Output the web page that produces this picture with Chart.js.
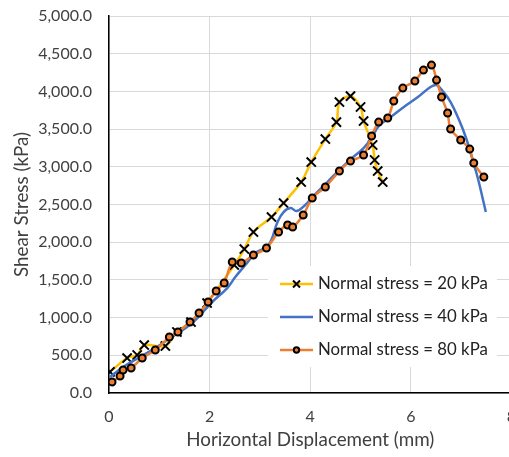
<!DOCTYPE html>
<html>
<head>
<meta charset="utf-8">
<script src="https://cdn.jsdelivr.net/npm/chart.js@4.4.1/dist/chart.umd.min.js"></script>
<style>
  html, body { margin: 0; padding: 0; background: #fff; overflow: hidden; }
</style>
</head>
<body>
<canvas id="shearChart" width="520" height="457"></canvas>
<script>
// Direct shear test: horizontal displacement (mm) vs shear stress (kPa)
const disp20 = [0.02, 0.36, 0.56, 0.70, 1.12, 1.35, 1.63, 1.95, 2.49, 2.69, 2.87, 3.23, 3.47, 3.82, 4.02, 4.30, 4.52, 4.58, 4.80, 5.00, 5.06, 5.24, 5.28, 5.34, 5.44];
const shear20 = [280, 464, 504, 636, 623, 809, 941, 1193, 1697, 1909, 2135, 2334, 2519, 2798, 3063, 3368, 3593, 3859, 3938, 3793, 3607, 3289, 3090, 2944, 2798];

const disp40 = [0.02, 0.28, 0.58, 0.92, 1.25, 1.65, 2.05, 2.35, 2.51, 2.71, 2.91, 3.17, 3.35, 3.47, 3.61, 3.73, 3.90, 4.06, 4.34, 4.74, 5.06, 5.22, 5.36, 5.60, 5.86, 6.14, 6.39, 6.51, 6.65, 6.79, 6.95, 7.09, 7.21, 7.33, 7.49];
const shear40 = [212, 345, 464, 597, 743, 928, 1207, 1392, 1538, 1697, 1856, 1962, 2268, 2400, 2453, 2413, 2493, 2612, 2798, 3063, 3249, 3381, 3540, 3660, 3793, 3925, 4058, 4084, 3991, 3859, 3633, 3395, 3130, 2851, 2400];

const disp80 = [0.06, 0.22, 0.28, 0.44, 0.66, 0.92, 1.20, 1.37, 1.61, 1.79, 1.97, 2.13, 2.29, 2.45, 2.63, 2.87, 3.13, 3.37, 3.55, 3.65, 3.86, 4.04, 4.30, 4.58, 4.80, 5.06, 5.22, 5.36, 5.54, 5.66, 5.84, 6.08, 6.25, 6.41, 6.51, 6.61, 6.73, 6.79, 6.99, 7.17, 7.25, 7.45];
const shear80 = [146, 225, 305, 331, 464, 570, 743, 809, 941, 1061, 1207, 1353, 1459, 1737, 1724, 1830, 1923, 2135, 2228, 2201, 2360, 2586, 2732, 2944, 3076, 3156, 3408, 3593, 3647, 3872, 4044, 4137, 4283, 4349, 4150, 3925, 3713, 3501, 3355, 3235, 3050, 2864];

const seriesLabels = ['Normal stress = 20 kPa', 'Normal stress = 40 kPa', 'Normal stress = 80 kPa'];
const xTicks = [0, 2, 4, 6, 8];
const yTicks = [0, 500, 1000, 1500, 2000, 2500, 3000, 3500, 4000, 4500, 5000];

const FONT = 'Lato';
const TEXT = '#404040';

const toPoints = (xs, ys) => xs.map((x, i) => ({ x: x, y: ys[i] }));

// legend box sitting inside the plot, lower right
const insideLegend = {
  id: 'insideLegend',
  afterDraw(chart) {
    const ctx = chart.ctx;
    const x0 = 268, y0 = 266, w = 229, rowH = 33;
    ctx.save();
    ctx.fillStyle = '#fff';
    ctx.fillRect(x0, y0, w, rowH * 3 + 2);
    ctx.font = '16.8px ' + FONT;
    ctx.textBaseline = 'middle';
    chart.data.datasets.forEach((ds, i) => {
      const cy = y0 + 18 + i * rowH;
      ctx.strokeStyle = ds.borderColor;
      ctx.lineWidth = 2.5;
      ctx.beginPath();
      ctx.moveTo(280, cy);
      ctx.lineTo(313, cy);
      ctx.stroke();
      if (ds.pointStyle === 'crossRot') {
        ctx.strokeStyle = '#000';
        ctx.lineWidth = 2;
        ctx.beginPath();
        ctx.moveTo(293, cy - 3.5); ctx.lineTo(300, cy + 3.5);
        ctx.moveTo(300, cy - 3.5); ctx.lineTo(293, cy + 3.5);
        ctx.stroke();
      } else if (ds.pointRadius > 0) {
        ctx.fillStyle = ds.pointBackgroundColor;
        ctx.strokeStyle = '#000';
        ctx.lineWidth = 2;
        ctx.beginPath();
        ctx.arc(296.5, cy, 2.7, 0, Math.PI * 2);
        ctx.fill();
        ctx.stroke();
      }
      ctx.fillStyle = '#222';
      ctx.fillText(seriesLabels[i], 318, cy);
    });
    ctx.restore();
  }
};

new Chart(document.getElementById('shearChart'), {
  type: 'scatter',
  data: {
    datasets: [{
      label: seriesLabels[0],
      data: toPoints(disp20, shear20),
      showLine: true,
      borderColor: '#FFC000',
      borderWidth: 2.5,
      tension: 0.3,
      pointStyle: 'crossRot',
      pointRadius: 6.5,
      pointBorderColor: '#000',
      pointBorderWidth: 2,
      pointBackgroundColor: '#000',
      order: 3
    }, {
      label: seriesLabels[1],
      data: toPoints(disp40, shear40),
      showLine: true,
      borderColor: '#4472C4',
      borderWidth: 2.5,
      tension: 0.4,
      pointRadius: 0,
      order: 2
    }, {
      label: seriesLabels[2],
      data: toPoints(disp80, shear80),
      showLine: true,
      borderColor: '#ED7D31',
      borderWidth: 2.5,
      tension: 0.3,
      pointStyle: 'circle',
      pointRadius: 3.5,
      pointBorderColor: '#000',
      pointBorderWidth: 2,
      pointBackgroundColor: '#ED7D31',
      order: 1
    }]
  },
  options: {
    responsive: false,
    animation: false,
    events: [],
    layout: { padding: { top: 16, right: 8, left: 0, bottom: 0 } },
    plugins: {
      legend: { display: false },
      tooltip: { enabled: false }
    },
    scales: {
      x: {
        type: 'linear',
        min: 0,
        max: 8,
        afterBuildTicks: s => { s.ticks = xTicks.map(v => ({ value: v })); },
        afterFit: s => { s.height = 64; s.paddingLeft = 0; s.paddingRight = 0; },
        grid: { color: '#d9d9d9', lineWidth: 1, drawTicks: false },
        border: { color: '#000', width: 1.5 },
        ticks: { color: TEXT, font: { family: FONT, size: 16 }, padding: 14 },
        title: {
          display: true,
          text: 'Horizontal Displacement (mm)',
          color: TEXT,
          font: { family: FONT, size: 18.8 },
          padding: { top: 0, bottom: 6 }
        }
      },
      y: {
        min: 0,
        max: 5000,
        afterBuildTicks: s => { s.ticks = yTicks.map(v => ({ value: v })); },
        afterFit: s => { s.width = 109; s.paddingTop = 0; s.paddingBottom = 0; },
        grid: { color: '#d9d9d9', lineWidth: 1, drawTicks: false },
        border: { color: '#000', width: 1.5 },
        ticks: {
          color: TEXT,
          font: { family: FONT, size: 16 },
          padding: 17,
          callback: v => v.toLocaleString('en-US', { minimumFractionDigits: 1, maximumFractionDigits: 1 })
        },
        title: {
          display: true,
          text: 'Shear Stress (kPa)',
          color: TEXT,
          font: { family: FONT, size: 18.8 },
          padding: { top: 11, bottom: 0 }
        }
      }
    }
  },
  plugins: [insideLegend]
});
</script>
</body>
</html>
